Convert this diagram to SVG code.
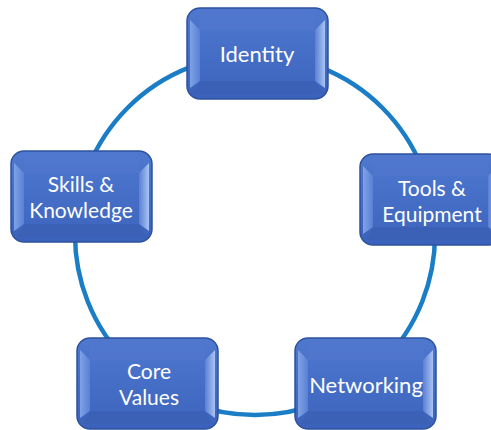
<svg xmlns="http://www.w3.org/2000/svg" width="491" height="430" viewBox="0 0 491 430">
<defs>
<linearGradient id="body" x1="0" y1="0" x2="0" y2="1">
<stop offset="0" stop-color="#4f78cf"/>
<stop offset="1" stop-color="#3a62bb"/>
</linearGradient>
<linearGradient id="face" x1="0" y1="0" x2="0" y2="1">
<stop offset="0" stop-color="#4a73cb"/>
<stop offset="1" stop-color="#4068c1"/>
</linearGradient>
<linearGradient id="leftbev" x1="0" y1="0" x2="1" y2="0">
<stop offset="0" stop-color="#7fa2e6"/>
<stop offset="1" stop-color="#5a80d4"/>
</linearGradient>
<linearGradient id="rightbev" x1="0" y1="0" x2="1" y2="0">
<stop offset="0" stop-color="#5a80d4"/>
<stop offset="1" stop-color="#a9c3f2"/>
</linearGradient>
<g id="box">
<rect x="0" y="0" width="141" height="91" rx="13" fill="url(#body)" stroke="#2f529f" stroke-width="1.5"/>
<path d="M3,12 L13,22 L13,73 L3,80 Z" fill="url(#leftbev)"/>
<path d="M138,12 L128,22 L128,73 L138,80 Z" fill="url(#rightbev)"/>
<path d="M13,3 L128,3 L128,22 L13,22 Z" fill="#5278cd" opacity="0.6"/>
<path d="M13,73 L128,73 L135,86 L6,86 Z" fill="#3a5fb3" opacity="0.7"/>
<rect x="13" y="22" width="115" height="51" fill="url(#face)"/>
</g>
</defs>
<style>
text{font-family:Lato,"Open Sans","Liberation Sans",sans-serif;font-size:21px;fill:#ffffff;text-anchor:middle}
</style>
<g id="connectors">
<circle cx="255" cy="235" r="180" fill="none" stroke="#1a7dc6" stroke-width="4.5"/>
</g>
<g id="identity">
<use href="#box" x="187" y="8"/>
<text x="257" y="62" style="font-size:22px">Identity</text>
</g>
<g id="skills">
<use href="#box" x="11" y="151"/>
<text x="81" y="192">Skills &amp;</text>
<text x="81" y="218">Knowledge</text>
</g>
<g id="tools">
<use href="#box" x="360" y="154"/>
<text x="432" y="196">Tools &amp;</text>
<text x="432" y="222">Equipment</text>
</g>
<g id="core">
<use href="#box" x="77" y="338"/>
<text x="149" y="379">Core</text>
<text x="149" y="405">Values</text>
</g>
<g id="networking">
<use href="#box" x="295" y="338"/>
<text x="366" y="393" style="font-size:22px">Networking</text>
</g>
</svg>
